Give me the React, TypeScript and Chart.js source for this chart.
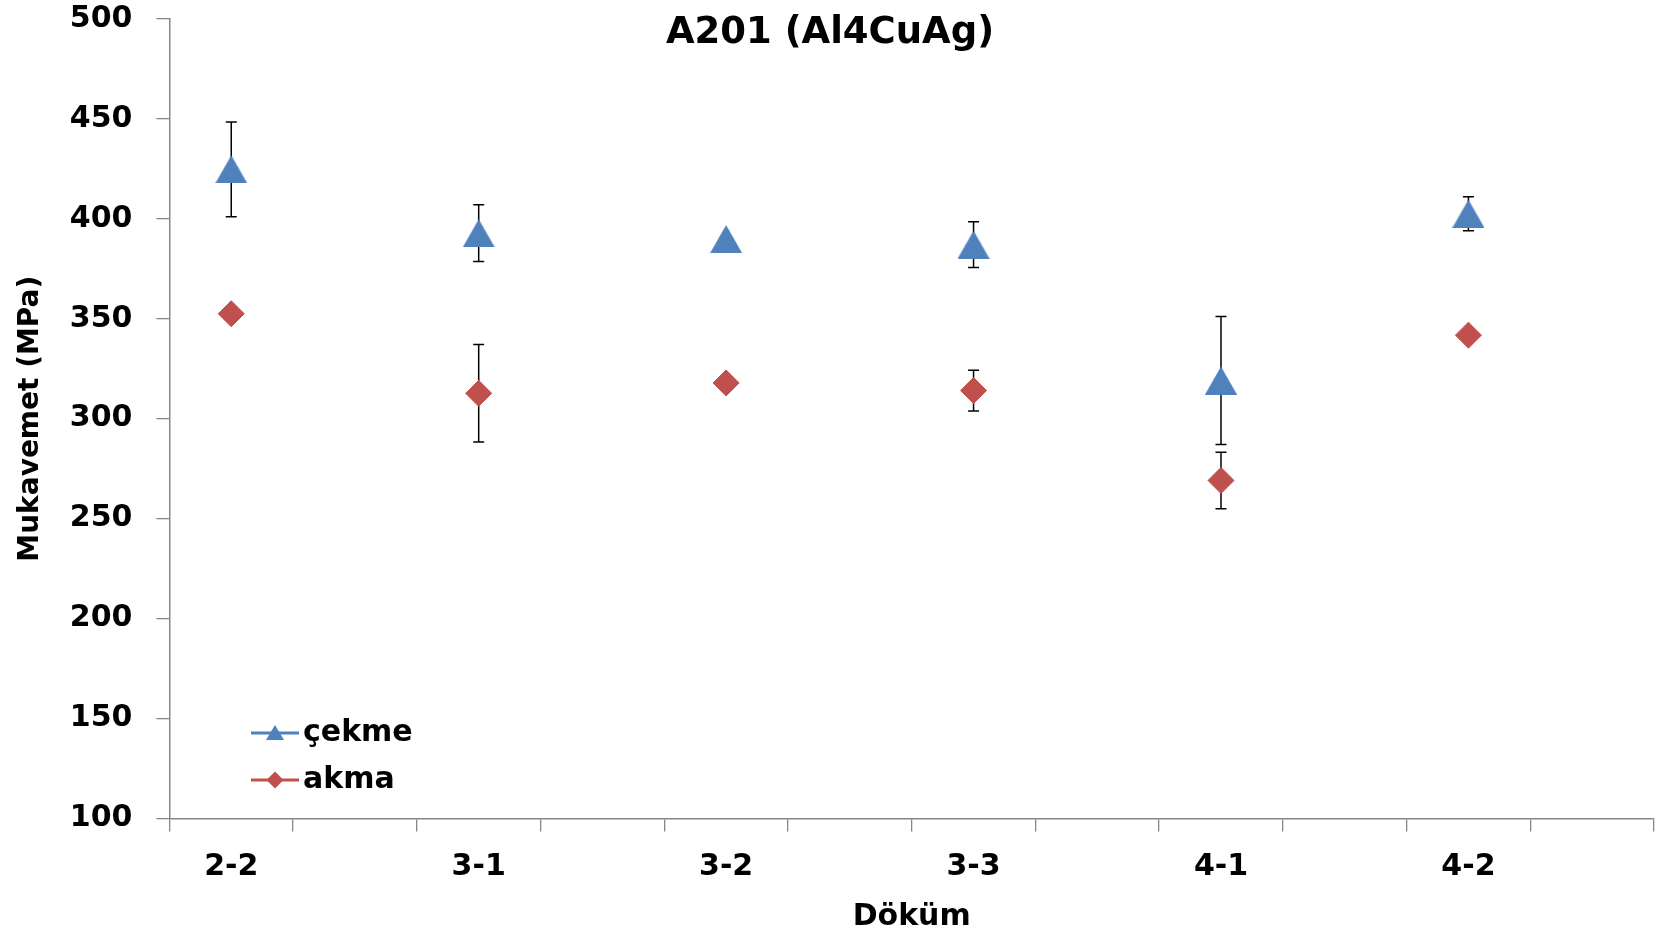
import React, { useEffect, useRef } from 'react';
import { Chart, registerables } from 'chart.js';

Chart.register(...registerables);

const categories = ['2-2', '3-1', '3-2', '3-3', '4-1', '4-2'];
const cekme = [424.8, 392.8, 389.9, 387.1, 319.1, 402.6];
const cekmeErr = [23.7, 14.2, 0, 11.5, 32, 8.5];
const akma = [352.5, 312.7, 317.9, 314.1, 269.1, 341.8];
const akmaErr = [0, 24.4, 0, 10.2, 14.1, 0];
const seriesNames = ['çekme', 'akma'];
const chartTitle = 'A201 (Al4CuAg)';
const xTitle = 'Döküm';
const yTitle = 'Mukavemet (MPa)';

const FONT = "'DejaVu Sans', sans-serif";
const BLUE = '#4F81BD';
const RED = '#C0504D';
const AXIS = '#868686';

// every category occupies two slots on the axis (Excel-style spacing)
const slotLabels = categories.flatMap((c) => [c, '']);
const spread = (arr: number[]) => arr.flatMap((v) => [v, null]);

function makeTriangle(w: number, h: number, color: string) {
  const c = document.createElement('canvas');
  c.width = w;
  c.height = h;
  const g = c.getContext('2d')!;
  g.fillStyle = color;
  g.beginPath();
  g.moveTo(w / 2, 0);
  g.lineTo(w, h);
  g.lineTo(0, h);
  g.closePath();
  g.fill();
  return c;
}

const errorBarPlugin = {
  id: 'errorBars',
  beforeDatasetsDraw(chart: any) {
    const ctx = chart.ctx;
    const ys = chart.scales.y;
    chart.data.datasets.forEach((ds: any, di: number) => {
      const meta = chart.getDatasetMeta(di);
      meta.data.forEach((pt: any, i: number) => {
        const v = ds.data[i];
        const e = ds.errors[i];
        if (v == null || !e) return;
        const yt = ys.getPixelForValue(v + e);
        const yb = ys.getPixelForValue(v - e);
        ctx.save();
        ctx.strokeStyle = '#000';
        ctx.lineWidth = 1.5;
        ctx.beginPath();
        ctx.moveTo(pt.x, yt);
        ctx.lineTo(pt.x, yb);
        ctx.moveTo(pt.x - 5.5, yt);
        ctx.lineTo(pt.x + 5.5, yt);
        ctx.moveTo(pt.x - 5.5, yb);
        ctx.lineTo(pt.x + 5.5, yb);
        ctx.stroke();
        ctx.restore();
      });
    });
  },
};

const titlePlugin = {
  id: 'customTitle',
  afterDraw(chart: any) {
    const ctx = chart.ctx;
    ctx.save();
    ctx.font = `bold 37px ${FONT}`;
    ctx.fillStyle = '#000';
    ctx.textAlign = 'center';
    ctx.textBaseline = 'alphabetic';
    ctx.fillText(chartTitle, chart.width / 2, 43);
    ctx.restore();
  },
};

const legendPlugin = {
  id: 'customLegend',
  afterDraw(chart: any) {
    const ctx = chart.ctx;
    const rows = [
      { y: 733, color: BLUE, kind: 'tri' },
      { y: 780, color: RED, kind: 'dia' },
    ];
    rows.forEach((r, i) => {
      ctx.save();
      ctx.strokeStyle = r.color;
      ctx.lineWidth = 3;
      ctx.beginPath();
      ctx.moveTo(251, r.y);
      ctx.lineTo(299, r.y);
      ctx.stroke();
      ctx.fillStyle = r.color;
      ctx.beginPath();
      if (r.kind === 'tri') {
        ctx.moveTo(275, r.y - 8);
        ctx.lineTo(284, r.y + 7);
        ctx.lineTo(266, r.y + 7);
      } else {
        ctx.moveTo(275, r.y - 8.5);
        ctx.lineTo(283.5, r.y);
        ctx.lineTo(275, r.y + 8.5);
        ctx.lineTo(266.5, r.y);
      }
      ctx.closePath();
      ctx.fill();
      ctx.font = `bold 30px ${FONT}`;
      ctx.fillStyle = '#000';
      ctx.textAlign = 'left';
      ctx.textBaseline = 'middle';
      ctx.fillText(seriesNames[i], 303, r.y);
      ctx.restore();
    });
  },
};

export default function App() {
  const ref = useRef<HTMLCanvasElement>(null);

  useEffect(() => {
    document.body.style.margin = '0';
    const tri = makeTriangle(32, 28, BLUE);
    const chart = new Chart(ref.current!, {
      type: 'line',
      data: {
        labels: slotLabels,
        datasets: [
          {
            label: seriesNames[0],
            data: spread(cekme),
            errors: spread(cekmeErr),
            showLine: false,
            pointStyle: tri,
            backgroundColor: BLUE,
            borderColor: BLUE,
          } as any,
          {
            label: seriesNames[1],
            data: spread(akma),
            errors: spread(akmaErr),
            showLine: false,
            pointStyle: 'rectRot',
            pointRadius: 13,
            pointBorderWidth: 1,
            backgroundColor: RED,
            borderColor: RED,
          } as any,
        ],
      },
      options: {
        responsive: false,
        animation: false,
        devicePixelRatio: 1,
        layout: { autoPadding: false, padding: { top: 19, right: 6, bottom: 0, left: 0 } },
        plugins: {
          legend: { display: false },
          tooltip: { enabled: false },
          title: { display: false },
        },
        scales: {
          x: {
            type: 'category',
            offset: true,
            grid: {
              offset: true,
              drawOnChartArea: false,
              drawTicks: true,
              tickLength: 13,
              color: AXIS,
              lineWidth: 1.3,
            },
            border: { display: true, color: AXIS, width: 1.5 },
            ticks: {
              autoSkip: false,
              maxRotation: 0,
              minRotation: 0,
              padding: 18,
              color: '#000',
              font: { family: FONT, size: 30, weight: 'bold' },
            },
            title: {
              display: true,
              text: xTitle,
              color: '#000',
              font: { family: FONT, size: 30, weight: 'bold' },
              padding: { top: 0, bottom: 2 },
            },
            afterFit: (s: any) => {
              s.height = 118.6;
              s.paddingLeft = 0;
              s.paddingRight = 0;
            },
          },
          y: {
            min: 100,
            max: 500,
            grid: {
              drawOnChartArea: false,
              drawTicks: true,
              tickLength: 13,
              color: AXIS,
              lineWidth: 1.3,
            },
            border: { display: true, color: AXIS, width: 1.5 },
            ticks: {
              stepSize: 50,
              padding: 24,
              color: '#000',
              font: { family: FONT, size: 30, weight: 'bold' },
            },
            title: {
              display: true,
              text: yTitle,
              color: '#000',
              font: { family: FONT, size: 28, weight: 'bold' },
              padding: { top: 14, bottom: 0 },
            },
            afterFit: (s: any) => {
              s.width = 169.4;
              s.paddingTop = 0;
              s.paddingBottom = 0;
            },
          },
        },
      } as any,
      plugins: [errorBarPlugin, titlePlugin, legendPlugin],
    });
    return () => chart.destroy();
  }, []);

  return (
    <div style={{ width: 1660, height: 937 }}>
      <canvas ref={ref} width={1660} height={937} style={{ display: 'block' }} />
    </div>
  );
}
